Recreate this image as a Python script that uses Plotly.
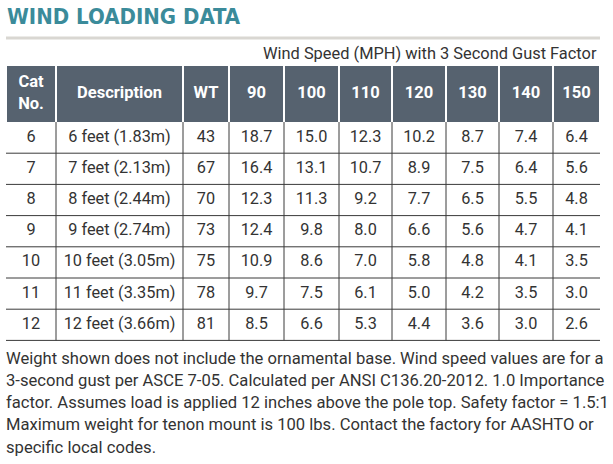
import plotly.graph_objects as go

cat_no = [6, 7, 8, 9, 10, 11, 12]
descriptions = ["6 feet (1.83m)", "7 feet (2.13m)", "8 feet (2.44m)", "9 feet (2.74m)",
                "10 feet (3.05m)", "11 feet (3.35m)", "12 feet (3.66m)"]
weights = [43, 67, 70, 73, 75, 78, 81]
wind_speeds = [90, 100, 110, 120, 130, 140, 150]
# load values, one list per wind speed column
loads = {
    90: [18.7, 16.4, 12.3, 12.4, 10.9, 9.7, 8.5],
    100: [15.0, 13.1, 11.3, 9.8, 8.6, 7.5, 6.6],
    110: [12.3, 10.7, 9.2, 8.0, 7.0, 6.1, 5.3],
    120: [10.2, 8.9, 7.7, 6.6, 5.8, 5.0, 4.4],
    130: [8.7, 7.5, 6.5, 5.6, 4.8, 4.2, 3.6],
    140: [7.4, 6.4, 5.5, 4.7, 4.1, 3.5, 3.0],
    150: [6.4, 5.6, 4.8, 4.1, 3.5, 3.0, 2.6],
}
header_labels = ["Cat<br>No.", "Description", "WT"] + [str(s) for s in wind_speeds]

title = "WIND LOADING DATA"
subtitle = "Wind Speed (MPH) with 3 Second Gust Factor"
footnote_lines = [
    "Weight shown does not include the ornamental base. Wind speed values are for a",
    "3-second gust per ASCE 7-05. Calculated per ANSI C136.20-2012. 1.0 Importance",
    "factor. Assumes load is applied 12 inches above the pole top. Safety factor = 1.5:1",
    "Maximum weight for tenon mount is 100 lbs. Contact the factory for AASHTO or",
    "specific local codes.",
]

W, H = 613, 464
HEADER_FILL = "#56626f"
TEAL = "#3b8b9a"
TEXT = "#333333"
LINE = "#3a3a3a"

# table geometry (pixels, y grows downward)
col_w = [50, 127, 46, 55, 55, 53, 54, 53, 54, 47]
left = 6
edges = [left]
for w in col_w:
    edges.append(edges[-1] + w)
centers = [(a + b) / 2 for a, b in zip(edges[:-1], edges[1:])]
head_top, head_bot = 66, 122
row_h = 31.2
n_rows = len(cat_no)
row_mid = [head_bot + row_h * (i + 0.5) for i in range(n_rows)]
table_bot = head_bot + row_h * n_rows

columns = [[str(c) for c in cat_no], descriptions, [str(w) for w in weights]] + \
          [[f"{v:.1f}" for v in loads[s]] for s in wind_speeds]

fig = go.Figure()

shapes = []
# header cells, separated by thin white gaps
for a, b in zip(edges[:-1], edges[1:]):
    shapes.append(dict(type="rect", xref="x", yref="y", x0=a + 1, x1=b - 1, y0=head_top, y1=head_bot,
                       fillcolor=HEADER_FILL, line=dict(width=0), layer="below"))
# row lines
for i in range(n_rows):
    y = head_bot + row_h * (i + 1)
    shapes.append(dict(type="line", xref="x", yref="y", x0=edges[0], x1=edges[-1], y0=y, y1=y,
                       line=dict(color=LINE, width=1), layer="below"))
# inner column lines
for x in edges[1:-1]:
    shapes.append(dict(type="line", xref="x", yref="y", x0=x, x1=x, y0=head_bot, y1=table_bot,
                       line=dict(color=LINE, width=1), layer="below"))
# grey rule under title
shapes.append(dict(type="line", xref="x", yref="y", x0=6, x1=600, y0=38, y1=38,
                   line=dict(color="#d9d7d2", width=3)))

fig.add_trace(go.Scatter(
    x=centers, y=[(head_top + head_bot) / 2] * len(centers),
    text=[f"<b>{h}</b>" for h in header_labels], mode="text",
    textfont=dict(family="Roboto", size=16.5, color="white"),
    hoverinfo="skip", cliponaxis=False))

for cx, vals in zip(centers, columns):
    fig.add_trace(go.Scatter(
        x=[cx] * n_rows, y=row_mid, text=vals, mode="text",
        textfont=dict(family="Roboto", size=16.3, color=TEXT),
        hoverinfo="skip", cliponaxis=False))

annotations = [
    dict(text=f"<b>{title}</b>", xref="x", yref="y", x=5, y=16,
         xanchor="left", yanchor="middle", showarrow=False,
         font=dict(family="Liberation Sans Narrow, DejaVu Sans Condensed", size=22, color=TEAL)),
    dict(text=subtitle, xref="x", yref="y", x=599, y=53,
         xanchor="right", yanchor="middle", showarrow=False,
         font=dict(family="Roboto", size=16.4, color=TEXT)),
]
for i, line in enumerate(footnote_lines):
    annotations.append(dict(text=line, xref="x", yref="y", x=4, y=358 + 22.3 * i,
                            xanchor="left", yanchor="middle", showarrow=False,
                            font=dict(family="Roboto", size=16.6, color=TEXT)))

fig.update_layout(
    width=W, height=H,
    margin=dict(l=0, r=0, t=0, b=0),
    paper_bgcolor="white", plot_bgcolor="white",
    showlegend=False,
    xaxis=dict(range=[0, W], visible=False, fixedrange=True),
    yaxis=dict(range=[H, 0], visible=False, fixedrange=True),
    shapes=shapes,
    annotations=annotations,
)

fig.write_html("out.html", config={"displayModeBar": False},
               post_script="document.body.style.margin = '0';")
